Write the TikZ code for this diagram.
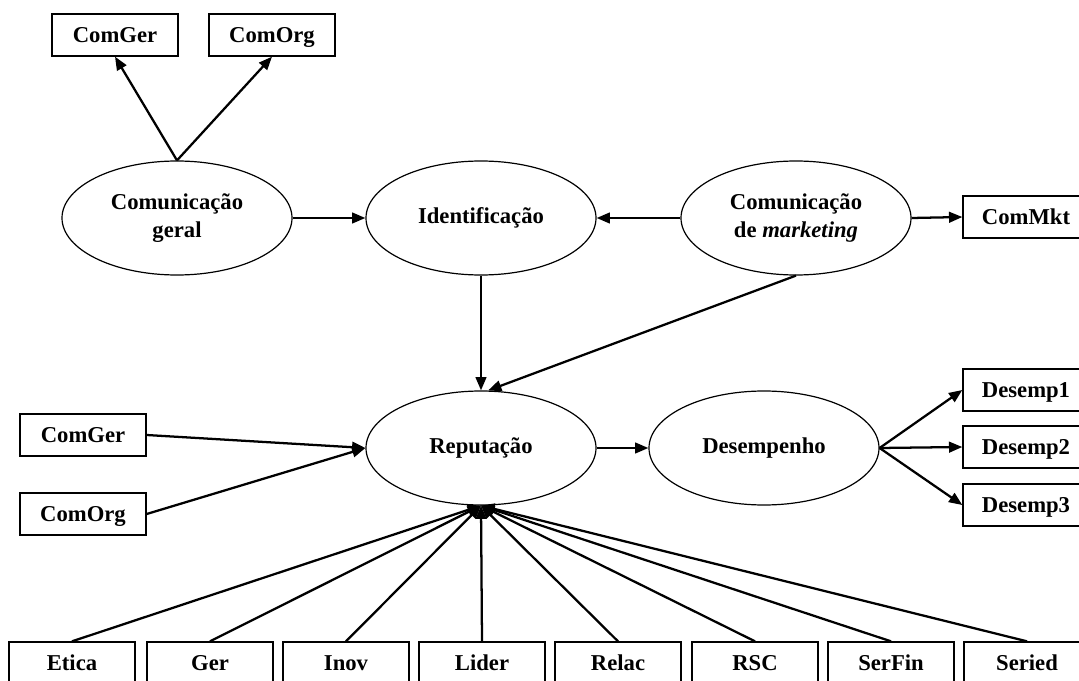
\documentclass[tikz,border=0pt]{standalone}
\usepackage{fontspec}
\setmainfont{Liberation Serif}
\usetikzlibrary{shapes.geometric,arrows.meta}

\begin{document}
\begin{tikzpicture}[x=0.75pt,y=-0.75pt,
  latent/.style={draw,ellipse,line width=0.9pt,minimum width=172.5pt,minimum height=85.5pt,inner sep=0pt,align=center,font=\bfseries\fontsize{17}{20.5}\selectfont},
  manifest/.style={draw,rectangle,line width=1pt,minimum width=94.5pt,minimum height=31.5pt,inner sep=0pt,text height=11.8pt,text depth=0.6pt,font=\bfseries\fontsize{17}{20.5}\selectfont},
  seta/.style={-{Triangle[length=10pt,width=8pt]},line width=1.7pt}]

\useasboundingbox (0,0) rectangle (1079,681);

% latent variables
\node[latent] (comgeral) at (177,218) {Comunica\c{c}\~ao\\geral};
\node[latent] (ident) at (481,218) {Identifica\c{c}\~ao};
\node[latent] (commkt) at (796,218) {Comunica\c{c}\~ao\\de \textit{marketing}};
\node[latent] (rep) at (481,448) {Reputa\c{c}\~ao};
\node[latent] (desemp) at (764,448) {Desempenho};

% indicators
\node[manifest] (topger) at (115,35) {ComGer};
\node[manifest] (toporg) at (272,35) {ComOrg};
\node[manifest] (mkt) at (1026,217) {ComMkt};
\node[manifest] (leftger) at (83,435) {ComGer};
\node[manifest] (leftorg) at (83,514) {ComOrg};
\node[manifest] (d1) at (1026,390) {Desemp1};
\node[manifest] (d2) at (1026,447) {Desemp2};
\node[manifest] (d3) at (1026,505) {Desemp3};

\node[manifest] (etica) at (72,663) {Etica};
\node[manifest] (ger) at (210,663) {Ger};
\node[manifest] (inov) at (346,663) {Inov};
\node[manifest] (lider) at (482,663) {Lider};
\node[manifest] (relac) at (618,663) {Relac};
\node[manifest] (rsc) at (755,663) {RSC};
\node[manifest] (serfin) at (891,663) {SerFin};
\node[manifest] (seried) at (1027,663) {Seried};

% paths
\draw[seta] (comgeral.north) -- (topger.south);
\draw[seta] (comgeral.north) -- (toporg.south);
\draw[seta] (comgeral.east) -- (ident.west);
\draw[seta] (commkt.west) -- (ident.east);
\draw[seta] (commkt.east) -- (mkt.west);
\draw[seta] (ident.south) -- (rep.north);
\draw[seta] (commkt.south) -- (rep.83);
\draw[seta] (leftger.east) -- (rep.west);
\draw[seta] (leftorg.east) -- (rep.west);
\draw[seta] (rep.east) -- (desemp.west);
\draw[seta] (desemp.east) -- (d1.west);
\draw[seta] (desemp.east) -- (d2.west);
\draw[seta] (desemp.east) -- (d3.west);

\foreach \ind in {etica,ger,inov,lider,relac,rsc,serfin,seried}
  \draw[seta] (\ind.north) -- (rep.south);

\end{tikzpicture}
\end{document}
